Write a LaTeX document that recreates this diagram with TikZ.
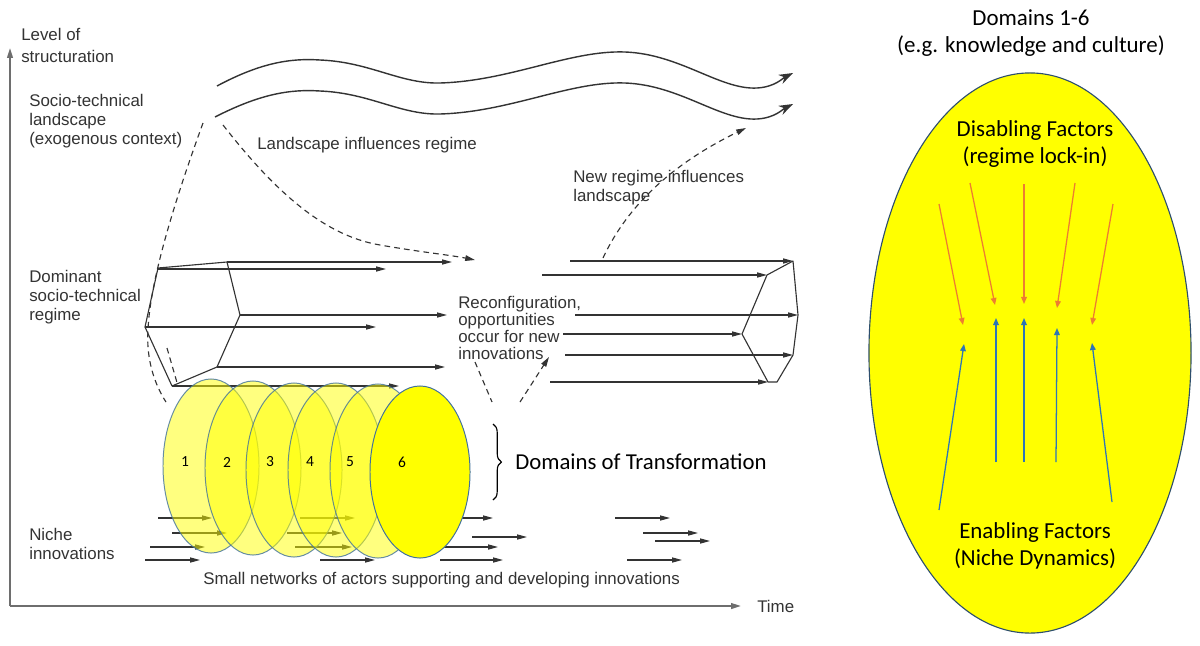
\documentclass[tikz,border=0pt]{standalone}
\usepackage{fontspec}
\setmainfont{Liberation Sans}
\newfontfamily\calibri{Carlito}
\usetikzlibrary{positioning,calc,arrows.meta,shapes.geometric,decorations.pathreplacing}
\definecolor{ink}{HTML}{333333}
\definecolor{axisgray}{HTML}{6E6E6E}
\definecolor{domyellow}{HTML}{FFFF00}
\definecolor{domedge}{HTML}{41719C}
\definecolor{disab}{HTML}{ED7D31}
\definecolor{enab}{HTML}{2E75B6}
\tikzset{
  axis/.style={-{Triangle[length=7pt,width=4pt]},line width=1.3pt,axisgray},
  wave/.style={-{Stealth[length=10pt,width=7pt]},line width=1pt,ink},
  rgm/.style={-{Triangle[length=7pt,width=3.6pt]},line width=0.8pt,ink},
  rgmedge/.style={line width=0.8pt,ink,line join=round},
  infl/.style={dash pattern=on 4pt off 3pt,line width=0.8pt,ink},
  inflarr/.style={infl,-{Triangle[length=7pt,width=4pt]}},
  lbl/.style={font=\fontsize{12}{13.5}\selectfont,text=ink,align=left,anchor=west,inner sep=0pt},
  dom/.style={ellipse,draw=domedge,draw opacity=0.8,fill=domyellow,fill opacity=0.5,
    line width=0.7pt,inner sep=0pt,minimum width=2.4cm,minimum height=4.35cm},
  domnum/.style={font=\calibri\fontsize{11}{13}\selectfont,inner sep=0pt},
  brc/.style={decorate,decoration={brace,amplitude=6pt},line width=0.8pt},
  rtxt/.style={font=\calibri\fontsize{16.3}{19}\selectfont,align=center,inner sep=0pt},
  disarr/.style={-{Triangle[length=5pt,width=4pt]},line width=0.9pt,disab},
  enarr/.style={-{Triangle[length=5pt,width=4pt]},line width=0.9pt,enab},
}
\begin{document}
\begin{tikzpicture}[x=0.025cm,y=-0.025cm]
  \useasboundingbox (0,0) rectangle (1200,645);
  % axes
  \coordinate (o) at (10,606);
  \coordinate (ytop) at (10,48);
  \coordinate (xend) at (741,606);
  \draw[axis] (o) -- (ytop);
  \draw[axis] (o) -- (xend);
  \node[lbl,font=\fontsize{12}{15.6}\selectfont] (lvl) at (21,45) {Level of\\structuration};
  \node[lbl] (time) at (757,606) {Time};
  \node[lbl] (land) at (29,121) {Socio-technical\\landscape\\(exogenous context)};
  \node[lbl] (regime) at (29,297) {Dominant\\socio-technical\\regime};
  \node[lbl] (niche) at (29,544) {Niche\\innovations};

  % landscape waves
  \foreach \dy/\sx in {0/217,31/215}
    \draw[wave,shift={(0,\dy)}] (\sx,86) .. controls (260,63) and (290,58) .. (320,60)
      .. controls (370,62) and (400,84) .. (440,83)
      .. controls (510,81) and (570,50) .. (625,52)
      .. controls (680,54) and (720,90) .. (757,88)
      .. controls (775,87) and (783,78) .. (793,73);
  \node[lbl] (lir) at (257,145) {Landscape influences regime};
  \node[lbl] (nril) at (573,188) {New regime influences\\landscape};

  % regime (left)
  \coordinate (r1) at (158,268);
  \coordinate (r2) at (227,262);
  \coordinate (r3) at (240,315);
  \coordinate (r4) at (217,367);
  \coordinate (r5) at (172,386);
  \coordinate (r6) at (145,327);
  \draw[rgmedge] (r1) -- (r2) -- (r3) -- (r4) -- (r5) -- (r6) -- cycle;
  \draw[rgm] (r2) -- (452,262);
  \draw[rgm] ($(r1)+(0,1)$) -- (386,269);
  \draw[rgm] (r3) -- (447,315);
  \draw[rgm] (r6) -- (376,327);
  \draw[rgm] (r4) -- (445,367);
  \draw[rgm] (r5) -- (399,386);

  % regime (right)
  \coordinate (s1) at (767,275);
  \coordinate (s2) at (793,261);
  \coordinate (s3) at (798,315);
  \coordinate (s4) at (793,355);
  \coordinate (s5) at (777,382);
  \coordinate (s6) at (742,334);
  \coordinate (s7) at (768,382);
  \draw[rgmedge] (s1) -- (s2) -- (s3) -- (s4) -- (s5) -- (s7) -- (s6) -- cycle;
  \draw[rgm] (570,261) -- (s2);
  \draw[rgm] (542,275) -- (s1);
  \draw[rgm] (575,315) -- (s3);
  \draw[rgm] (563,334) -- (s6);
  \draw[rgm] (565,355) -- (s4);
  \draw[rgm] (550,382) -- (s7);
  \node[lbl,font=\fontsize{12}{12.3}\selectfont] (reconf) at (458,328)
    {Reconfiguration,\\opportunities\\occur for new\\innovations};

  % dashed influences
  \draw[infl] (203,123) .. controls (175,200) and (150,280) .. (148,330)
    .. controls (146,360) and (155,385) .. (166,402);
  \draw[infl] (167,348) -- (178,386);
  \draw[inflarr] (223,125) .. controls (270,185) and (320,235) .. (380,245)
    .. controls (420,252) and (450,255) .. (475,260);
  \draw[inflarr] (603,258) .. controls (630,200) and (680,160) .. (746,128);
  \draw[infl] (475,362) -- (492,402);
  \draw[inflarr] (520,402) -- (549,357);

  % niche arrows
  \foreach \xa/\xb/\yy in {158/212/518,172/227/533,150/205/547,145/200/560,
      300/355/518,287/342/533,295/352/547,320/375/560,
      440/493/518,472/527/537,440/498/547,440/503/560,
      615/670/518,643/698/533,655/710/541,627/682/560}
    \draw[rgm] (\xa,\yy) -- (\xb,\yy);
  \node[lbl] (small) at (203,580) {Small networks of actors supporting and developing innovations};

  % domains of transformation
  \foreach \i/\cx/\cy in {1/211/466,2/253/468,3/294/470,4/336/470,5/378/471}
    \node[dom] (d\i) at (\cx,\cy) {};
  \node[dom,fill opacity=1,draw opacity=1,minimum width=2.5cm,minimum height=4.3cm] (d6) at (420,472) {};
  \foreach \i/\lx in {1/185,2/227,3/270,4/310,5/350,6/402}
    \node[domnum] (n\i) at (\lx,462) {\i};
  \coordinate (bt) at (493,424);
  \coordinate (bb) at (493,500);
  \draw[brc] (bt) -- (bb);
  \node[lbl,font=\calibri\fontsize{16.2}{19}\selectfont,text=black] (dot) at (515,462) {Domains of Transformation};

  % right-hand domain
  \node[rtxt] (dhead) at (1031,33) {Domains 1-6\\(e.g. knowledge and culture)};
  \node[ellipse,draw=domedge!70!black,fill=domyellow,line width=0.8pt,inner sep=0pt,
    minimum width=8.05cm,minimum height=14cm] (big) at (1030,353) {};
  \node[rtxt] (dis) at (1035,144) {Disabling Factors\\(regime lock-in)};
  \node[rtxt] (ena) at (1035,546) {Enabling Factors\\(Niche Dynamics)};
  \draw[disarr] (939,204) -- (963,325);
  \draw[disarr] (970,183) -- (995,305);
  \draw[disarr] (1024,184) -- (1024,304);
  \draw[disarr] (1075,183) -- (1057,308);
  \draw[disarr] (1113,204) -- (1092,325);
  \draw[enarr] (939,510) -- (964,344);
  \draw[enarr] (996,462) -- (996,318);
  \draw[enarr] (1024,462) -- (1024,318);
  \draw[enarr] (1056,462) -- (1057,328);
  \draw[enarr] (1112,502) -- (1092,343);
\end{tikzpicture}
\end{document}
